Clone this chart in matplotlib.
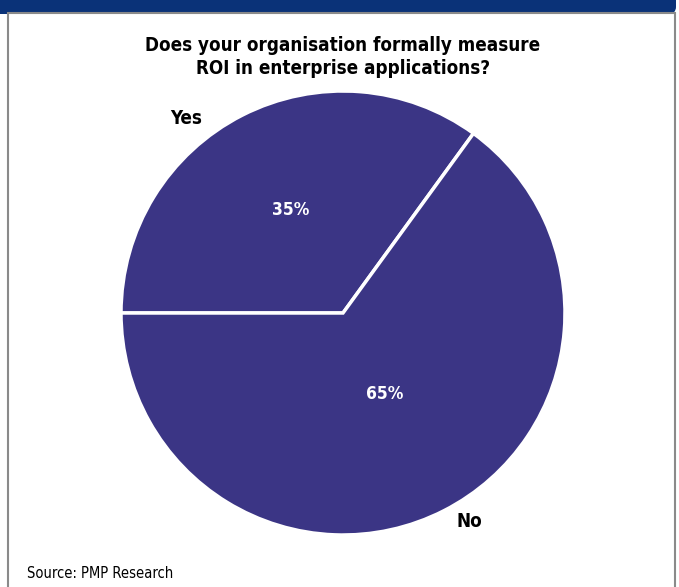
import numpy as np
import matplotlib.pyplot as plt
from matplotlib.patches import Rectangle, FancyBboxPatch

# data
categories = ["Yes", "No"]
shares = [35, 65]
pie_color = "#3b3585"
title = "Does your organisation formally measure\nROI in enterprise applications?"
source = "Source: PMP Research"

W, H = 679, 587
fig = plt.figure(figsize=(W / 100, H / 100), dpi=100)
font = ["DejaVu Sans"]
stretch = "condensed"


def fx(px):
    return px / W


def fy(py):
    return 1 - py / H


# header band and panel frame
fig.patches.append(FancyBboxPatch((fx(-10), fy(14)), fx(686), fy(-20) - fy(14),
                                  boxstyle="round,pad=0,rounding_size=0.012",
                                  transform=fig.transFigure, facecolor="#0a3278",
                                  edgecolor="none", zorder=0))
fig.patches.append(Rectangle((fx(7.5), fy(600)), fx(667), fy(13) - fy(600),
                             transform=fig.transFigure, facecolor="white",
                             edgecolor="#8a8a8a", linewidth=1.5, zorder=1))

cx, cy, r = 343, 313, 222
ax = fig.add_axes([fx(cx - r), fy(cy + r), fx(2 * r), fy(cy - r) - fy(cy + r)])
ax.set_zorder(5)
ax.patch.set_visible(False)
wedges, _ = ax.pie(shares, colors=[pie_color] * len(shares), startangle=180,
                   counterclock=False, radius=1,
                   wedgeprops=dict(edgecolor="white", linewidth=2.5))
ax.set_xlim(-1, 1)
ax.set_ylim(-1, 1)
ax.set_aspect("equal")

pct_dist = [0.52, 0.41]
lab_pos = [(1.125, 129), (1.10, -58.7)]
for w, share, cat, d, (ld, la) in zip(wedges, shares, categories, pct_dist, lab_pos):
    mid = np.deg2rad((w.theta1 + w.theta2) / 2)
    ax.text(d * np.cos(mid), d * np.sin(mid), f"{share}%", color="white",
            fontsize=12.5, fontweight="bold", family=font, fontstretch=stretch,
            ha="center", va="center")
    a = np.deg2rad(la)
    ax.text(ld * np.cos(a), ld * np.sin(a), cat, color="black",
            fontsize=13.5, fontweight="bold", family=font, fontstretch=stretch,
            ha="center", va="center")

fig.text(fx(343), fy(57), title, ha="center", va="center", fontsize=13.5,
         fontweight="bold", family=font, fontstretch=stretch, linespacing=1.25)
fig.text(fx(27), fy(573), source, ha="left", va="center", fontsize=10.5,
         family=font, fontstretch=stretch)

fig.savefig("out.png", dpi=100)
